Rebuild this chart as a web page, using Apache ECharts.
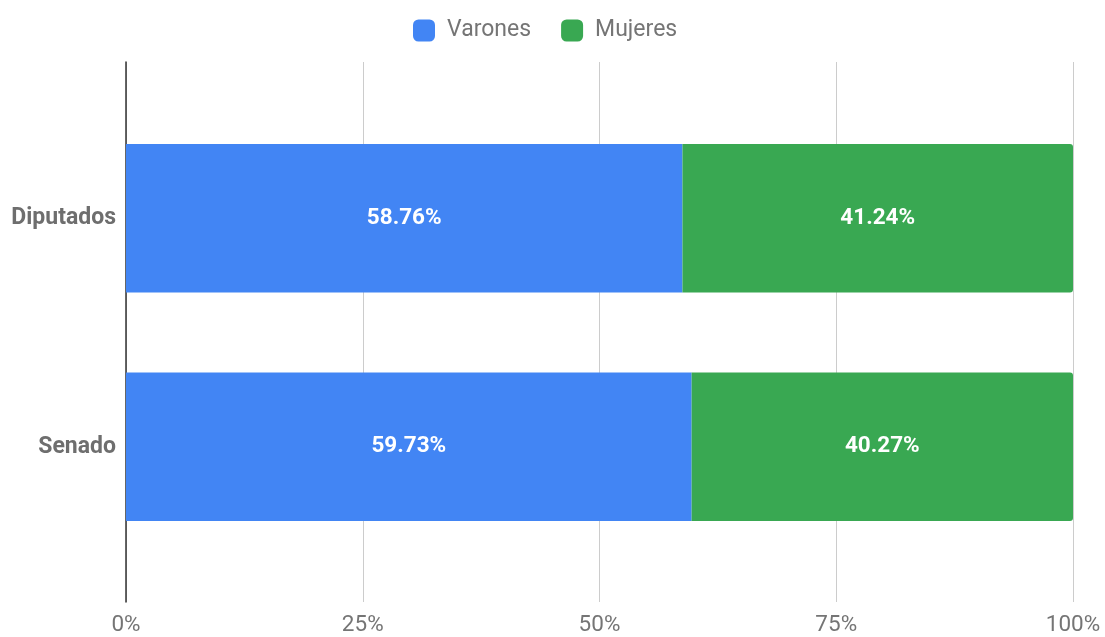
<!DOCTYPE html>
<html>
<head>
<meta charset="utf-8">
<script src="https://cdn.jsdelivr.net/npm/echarts@6/dist/echarts.min.js"></script>
<title>Varones y Mujeres</title>
<style>
  html, body { margin: 0; padding: 0; background: #fff; }
  #main { width: 1105px; height: 637px; }
</style>
</head>
<body>
<div id="main"></div>
<script>
// categorias (de arriba hacia abajo) y porcentajes
var categories = ['Diputados', 'Senado'];
var varones = [58.76, 59.73];
var mujeres = [41.24, 40.27];
var ticks = [0, 25, 50, 75, 100];

var chart = echarts.init(document.getElementById('main'));

var label = {
  show: true,
  position: 'inside',
  color: '#fff',
  fontFamily: 'Roboto',
  fontWeight: 'bold',
  fontSize: 22.5,
  formatter: function (p) { return p.value.toFixed(2) + '%'; }
};

var option = {
  animation: false,
  textStyle: { fontFamily: 'Roboto' },
  legend: {
    top: 14,
    left: 408,
    itemWidth: 22,
    itemHeight: 22,
    itemGap: 30,
    icon: 'roundRect',
    textStyle: { fontSize: 23, color: '#757575', fontFamily: 'Roboto', padding: [1, 0, 0, 7] },
    data: ['Varones', 'Mujeres']
  },
  // grid 0: cuadricula y ejes; grid 1: barras
  grid: [
    { left: 126, right: 32, top: 62, bottom: 32, containLabel: false },
    { left: 126, right: 32, top: 104, bottom: 76, containLabel: false }
  ],
  xAxis: [
    {
      gridIndex: 0,
      type: 'value',
      min: ticks[0],
      max: ticks[ticks.length - 1],
      interval: 25,
      axisLine: { show: false },
      axisTick: { show: false },
      splitLine: { lineStyle: { color: '#cccccc', width: 1 } },
      axisLabel: {
        color: '#757575',
        fontSize: 22.5,
        margin: 12,
        formatter: function (v) { return v + '%'; }
      }
    },
    {
      gridIndex: 1,
      type: 'value',
      min: ticks[0],
      max: ticks[ticks.length - 1],
      show: false
    }
  ],
  yAxis: [
    {
      gridIndex: 0,
      type: 'value',
      min: 0,
      max: 1,
      axisLine: { show: true, lineStyle: { color: '#333', width: 1.5 } },
      axisTick: { show: false },
      axisLabel: { show: false },
      splitLine: { show: false }
    },
    {
      gridIndex: 1,
      type: 'category',
      inverse: true,
      data: categories,
      axisLine: { show: false },
      axisTick: { show: false },
      axisLabel: { color: '#6e6e6e', fontWeight: 'bold', fontSize: 23, margin: 10 }
    }
  ],
  series: [
    {
      name: 'Varones',
      type: 'bar',
      stack: 'total',
      xAxisIndex: 1,
      yAxisIndex: 1,
      barCategoryGap: '35%',
      itemStyle: { color: '#4285f4' },
      label: label,
      data: varones
    },
    {
      name: 'Mujeres',
      type: 'bar',
      stack: 'total',
      xAxisIndex: 1,
      yAxisIndex: 1,
      barCategoryGap: '35%',
      itemStyle: { color: '#39a852', borderRadius: [0, 3, 3, 0] },
      label: label,
      data: mujeres
    }
  ]
};

chart.setOption(option);
</script>
</body>
</html>
